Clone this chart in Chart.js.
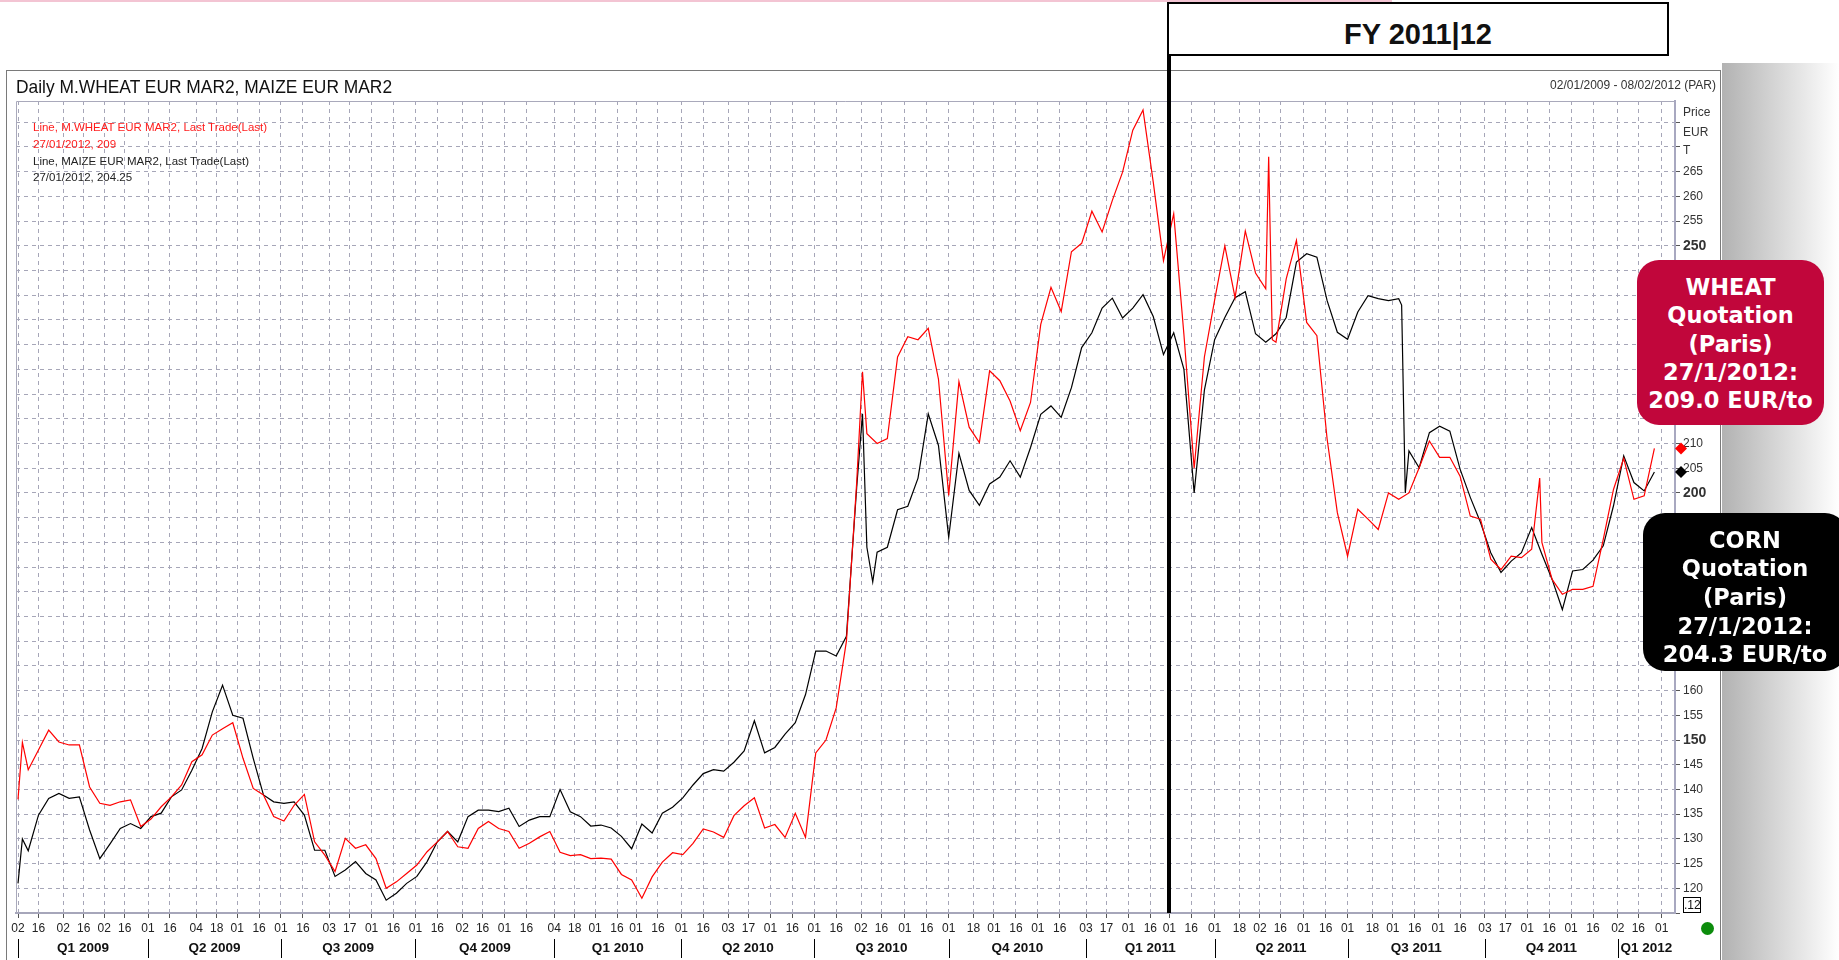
<!DOCTYPE html>
<html>
<head>
<meta charset="utf-8">
<title>Daily M.WHEAT EUR MAR2, MAIZE EUR MAR2</title>
<script src="https://cdn.jsdelivr.net/npm/chart.js@4.4.1/dist/chart.umd.min.js"></script>
<style>
    html, body { margin: 0; padding: 0; background: #fff; }
    #page { position: relative; width: 1839px; height: 960px; overflow: hidden; font-family: 'Liberation Sans', Arial, sans-serif; }
    #graph { position: absolute; left: 0; top: 0; z-index: 1; }
    .abs { position: absolute; white-space: nowrap; z-index: 2; }
    #pink { position: absolute; left: 0; top: 0; width: 1392px; height: 2px; background: #f3c4d3; }
    #shade { position: absolute; left: 1722px; top: 63px; width: 117px; height: 897px; background: linear-gradient(to right, #b2b2b2, #ffffff); }
    #frame { position: absolute; left: 6px; top: 70px; width: 1713px; height: 920px; border: 1px solid #7a7a7a; }
    #title { left: 16px; top: 76.6px; font-size: 19px; line-height: 19px; color: #111; transform: scaleX(0.915); transform-origin: left top; }
    #range { right: 123px; top: 79px; font-size: 12px; line-height: 12px; color: #333; }
    .leg { left: 33px; font-size: 11.5px; line-height: 16.8px; }
    .unit { left: 1683px; font-size: 12px; line-height: 12px; color: #333; }
    #fyBox { left: 1167px; top: 2px; width: 502px; height: 54px; box-sizing: border-box; border: 2px solid #000; background: #fff; }
    #fyText { left: 1167px; top: 19.5px; width: 502px; text-align: center; font-weight: bold; font-size: 29px; line-height: 29px; color: #111; }
    .quote { border-radius: 22px; color: #fff; font-family: 'DejaVu Sans', sans-serif; font-weight: bold; font-size: 22.5px; text-align: center; }
    .quote div { position: absolute; left: 0; width: 100%; }
    #wheatBox { left: 1637px; top: 260px; width: 187px; height: 165px; background: #c1063b; line-height: 28.3px; }
    #cornBox { left: 1643px; top: 513px; width: 204px; height: 158px; background: #000; line-height: 28.7px; }
    #small { left: 1683px; top: 897px; width: 18px; height: 16px; box-sizing: border-box; border: 1px solid #000; font-size: 12px; line-height: 14px; text-align: center; color: #111; }
    #dot { left: 1700.5px; top: 922px; width: 13px; height: 13px; border-radius: 50%; background: #0c8c0c; }
</style>
</head>
<body>
<div id="page">
    <div id="pink"></div>
    <div id="shade"></div>
    <div id="frame"></div>
    <div id="graph"></div>
    <div id="title" class="abs">Daily M.WHEAT EUR MAR2, MAIZE EUR MAR2</div>
    <div id="range" class="abs">02/01/2009 - 08/02/2012 (PAR)</div>
    <div class="abs leg" style="top:119px;color:#ff1c1c">Line, M.WHEAT EUR MAR2, Last Trade(Last)</div>
    <div class="abs leg" style="top:135.8px;color:#ff1c1c">27/01/2012, 209</div>
    <div class="abs leg" style="top:152.6px;color:#222">Line, MAIZE EUR MAR2, Last Trade(Last)</div>
    <div class="abs leg" style="top:169.4px;color:#222">27/01/2012, 204.25</div>
    <div class="abs unit" style="top:106.3px">Price</div>
    <div class="abs unit" style="top:126.3px">EUR</div>
    <div class="abs unit" style="top:143.8px">T</div>
    <div id="fyBox" class="abs"></div>
    <div id="fyText" class="abs">FY 2011|12</div>
    <div id="wheatBox" class="abs quote">
        <div style="top:13px">WHEAT</div>
        <div style="top:41.3px">Quotation</div>
        <div style="top:69.6px">(Paris)</div>
        <div style="top:97.9px">27/1/2012:</div>
        <div style="top:126.2px">209.0 EUR/to</div>
    </div>
    <div id="cornBox" class="abs quote">
        <div style="top:12.6px">CORN</div>
        <div style="top:41.3px">Quotation</div>
        <div style="top:70px">(Paris)</div>
        <div style="top:98.7px">27/1/2012:</div>
        <div style="top:127.4px">204.3 EUR/to</div>
    </div>
    <div id="small" class="abs">.12</div>
    <div id="dot" class="abs"></div>
</div>
<script>
// Cours hebdomadaires (EUR/t), un point par vendredi depuis le 02/01/2009
var wheatWeekly = [
    138, 144, 148, 152, 149.6, 149, 149, 140.5, 137.2, 136.8,
    137.5, 137.9, 132.5, 134, 136.5, 138.5, 140.9, 145.6, 147, 151,
    152.3, 153.5, 146.3, 140.2, 138.9, 134.5, 133.6, 136.8, 139, 129.4,
    126.7, 123.4, 130.1, 128.1, 128.8, 126, 120, 121.3, 123, 124.7,
    127.4, 129.4, 131.5, 128.4, 128.1, 132.1, 133.5, 132.1, 131.5, 128.1,
    129.1, 130.4, 131.5, 127.3, 126.6, 126.8, 126, 126.1, 125.9, 122.8,
    121.7, 118, 122.3, 125.3, 127.2, 126.8, 129.1, 132, 131.4, 130.3,
    134.7, 136.7, 138.3, 132.2, 132.9, 130.3, 135.2, 130.3, 147.4, 150,
    156.5, 170, 202, 212, 210, 211, 227.5, 231.6, 231, 233.3,
    223, 199.5, 222.5, 213.3, 210.2, 224.7, 222.7, 218.6, 212.6, 218.3,
    234.1, 241.6, 236.7, 248.8, 250.5, 257, 252.8, 259.2, 264.9, 273.4,
    277.5, 262.9, 247, 256.5, 232, 205, 227.5, 239, 250, 239.5,
    253, 244.5, 241.3, 230.5, 243.3, 251.1, 234.5, 231.8, 210.9, 196,
    187.2, 196.7, 194.7, 192.6, 200, 198.7, 200, 205.1, 210.5, 207.2,
    207.2, 203.4, 195.3, 194.7, 186.6, 184.5, 187.2, 186.9, 188.6, 190,
    182.5, 179.5, 180.5, 180.5, 181.1, 190.6, 200.7, 207, 198.7, 199.4, 209
];
var maizeWeekly = [
    121, 127.6, 134.8, 138.2, 139.2, 138.2, 138.5, 131.8, 126, 129,
    132.1, 133.1, 132.1, 134.5, 135.2, 138.5, 139.9, 143.9, 148.3, 155.7,
    161.1, 155, 154.4, 146.3, 138.9, 137.5, 137.2, 137.5, 134.8, 127.7,
    127.7, 122.4, 123.7, 125.4, 123, 121.7, 117.6, 119, 121, 122.4,
    125.4, 129.4, 131.5, 129.4, 134.5, 135.8, 135.8, 135.5, 136.2, 132.5,
    133.8, 134.5, 134.5, 140, 135.5, 134.5, 132.6, 132.8, 132.2, 130.5,
    128, 133, 131.2, 135.2, 136.4, 138.3, 140.9, 143.2, 144, 143.7,
    145.5, 147.8, 153.9, 147.4, 148.5, 151.2, 153.5, 159.2, 168, 168,
    167, 171, 201, 189, 188, 189, 196.6, 197.3, 203, 216,
    209.6, 191, 208, 200.5, 197.5, 201.8, 203.2, 206.5, 203.2, 209.2,
    215.9, 217.6, 215.3, 221.3, 229.4, 232.4, 237.4, 239.4, 235.4, 237.4,
    240.1, 235.7, 228, 232.4, 225, 200, 220.8, 231, 235.5, 239.5,
    240.7, 232.2, 230.5, 232.2, 235.5, 246.7, 248.4, 247.7, 238.9, 232.5,
    231.1, 236.6, 239.9, 239.3, 238.9, 239.3, 208.5, 205.1, 212.2, 213.5,
    212.5, 204.8, 199.1, 194, 187.9, 183.9, 186.2, 187.9, 193, 187.6,
    182.5, 176.4, 184.2, 184.5, 186.4, 189.3, 197.4, 207.5, 202.1, 200.4, 204.25
];
// Pics journaliers entre deux semaines : [jour depuis le 02/01/2009, cours]
var wheatExtra = [[3, 149.5], [578, 224.5], [856, 268], [858.5, 231], [1041.5, 203]];
var maizeExtra = [[3, 130], [578, 216], [585, 182], [947, 238], [949.5, 200]];

var lastWheat = 209;
var lastMaize = 204.25;

// Graduations de l'axe des dates
var tickDates = [
    '2009-01-02','2009-01-16','2009-02-02','2009-02-16','2009-03-02','2009-03-16','2009-04-01','2009-04-16',
    '2009-05-04','2009-05-18','2009-06-01','2009-06-16','2009-07-01','2009-07-16','2009-08-03','2009-08-17',
    '2009-09-01','2009-09-16','2009-10-01','2009-10-16','2009-11-02','2009-11-16','2009-12-01','2009-12-16',
    '2010-01-04','2010-01-18','2010-02-01','2010-02-16','2010-03-01','2010-03-16','2010-04-01','2010-04-16',
    '2010-05-03','2010-05-17','2010-06-01','2010-06-16','2010-07-01','2010-07-16','2010-08-02','2010-08-16',
    '2010-09-01','2010-09-16','2010-10-01','2010-10-18','2010-11-01','2010-11-16','2010-12-01','2010-12-16',
    '2011-01-03','2011-01-17','2011-02-01','2011-02-16','2011-03-01','2011-03-16','2011-04-01','2011-04-18',
    '2011-05-02','2011-05-16','2011-06-01','2011-06-16','2011-07-01','2011-07-18','2011-08-01','2011-08-16',
    '2011-09-01','2011-09-16','2011-10-03','2011-10-17','2011-11-01','2011-11-16','2011-12-01','2011-12-16',
    '2012-01-02','2012-01-16','2012-02-01'
];
var quarterStarts = ['2009-01-02','2009-04-01','2009-07-01','2009-10-01','2010-01-04','2010-04-01','2010-07-01',
    '2010-10-01','2011-01-03','2011-04-01','2011-07-01','2011-10-03','2012-01-02'];
var quarterLabels = ['Q1 2009','Q2 2009','Q3 2009','Q4 2009','Q1 2010','Q2 2010','Q3 2010',
    'Q4 2010','Q1 2011','Q2 2011','Q3 2011','Q4 2011','Q1 2012'];
var fyDate = '2011-03-01';

var yTicks = [115,120,125,130,135,140,145,150,155,160,165,170,175,180,185,190,195,200,205,210,
    215,220,225,230,235,240,245,250,255,260,265,270,275];
var yShown = [120,125,130,135,140,145,150,155,160,200,205,210,250,255,260,265];
var yBold = [150, 200, 250];

var xMin = -1.37, xMax = 1134.1;
var yMin = 115, yMax = 279.3;
var FONT = "'Liberation Sans', Arial, sans-serif";
var GRID = '#a6a6b8';

// Nombre de jours depuis le 02/01/2009
function dayOf(s) {
    const p = s.split('-');
    return (Date.UTC(+p[0], p[1] - 1, +p[2]) - Date.UTC(2009, 0, 2)) / 86400000;
}

function buildPoints(weekly, extra) {
    const pts = weekly.map((v, i) => ({ x: i * 7, y: v }));
    extra.forEach(e => pts.push({ x: e[0], y: e[1] }));
    return pts.sort((a, b) => a.x - b.x);
}

var tickDays = tickDates.map(dayOf);
var tickText = tickDates.map(s => s.slice(8));
var qDays = quarterStarts.map(dayOf);
var qMids = qDays.map((d, i) => (d + Math.min(i + 1 < qDays.length ? qDays[i + 1] : xMax, xMax)) / 2);

var graphDiv = document.getElementById('graph');
graphDiv.innerHTML = '';
var canvas = document.createElement('canvas');
canvas.id = 'chartCanvas';
canvas.width = 1839;
canvas.height = 960;
graphDiv.appendChild(canvas);

// Cadre du tracé, ligne FY, séparateurs de trimestres et marqueurs de prix
var extras = {
    id: 'extras',
    beforeDatasetsDraw(chart) {
        const { ctx, chartArea: a } = chart;
        ctx.save();
        ctx.strokeStyle = '#a9a9bb';
        ctx.lineWidth = 1;
        ctx.beginPath();
        ctx.moveTo(a.left + 0.5, a.bottom);
        ctx.lineTo(a.left + 0.5, a.top + 0.5);
        ctx.lineTo(a.right, a.top + 0.5);
        ctx.stroke();
        ctx.restore();
    },
    afterDraw(chart) {
        const { ctx, chartArea: a, scales } = chart;
        const x = scales.x, y = scales.y;
        ctx.save();
        const fx = Math.round(x.getPixelForValue(dayOf(fyDate)));
        ctx.fillStyle = '#000';
        ctx.fillRect(fx - 2, 56, 4, a.bottom - 56);

        ctx.strokeStyle = '#000';
        ctx.lineWidth = 1;
        qDays.forEach(d => {
            const px = Math.round(x.getPixelForValue(d)) + 0.5;
            ctx.beginPath();
            ctx.moveTo(px, 939);
            ctx.lineTo(px, 958);
            ctx.stroke();
        });

        const diamond = (val, color) => {
            const py = y.getPixelForValue(val);
            const px = a.right + 6;
            ctx.fillStyle = color;
            ctx.beginPath();
            ctx.moveTo(px, py - 6);
            ctx.lineTo(px + 6, py);
            ctx.lineTo(px, py + 6);
            ctx.lineTo(px - 6, py);
            ctx.closePath();
            ctx.fill();
        };
        diamond(lastWheat, '#ff0000');
        diamond(lastMaize, '#000000');
        ctx.restore();
    }
};

var chart = new Chart(canvas, {
    type: 'line',
    data: {
        datasets: [{
            label: 'M.WHEAT EUR MAR2',
            data: buildPoints(wheatWeekly, wheatExtra),
            borderColor: '#ff0000',
            borderWidth: 1.2,
            pointRadius: 0,
            tension: 0
        }, {
            label: 'MAIZE EUR MAR2',
            data: buildPoints(maizeWeekly, maizeExtra),
            borderColor: '#000000',
            borderWidth: 1.2,
            pointRadius: 0,
            tension: 0
        }]
    },
    options: {
        responsive: false,
        animation: false,
        devicePixelRatio: 1,
        layout: { padding: { left: 16, top: 101, right: 0, bottom: 0 } },
        plugins: {
            legend: { display: false },
            tooltip: { enabled: false },
            title: { display: false }
        },
        scales: {
            x: {
                type: 'linear',
                position: 'bottom',
                weight: 0,
                min: xMin,
                max: xMax,
                afterBuildTicks: axis => { axis.ticks = tickDays.map(v => ({ value: v })); },
                afterFit: axis => { axis.height = 26; },
                ticks: {
                    autoSkip: false,
                    maxRotation: 0,
                    minRotation: 0,
                    padding: 3,
                    color: '#222',
                    font: { family: FONT, size: 12 },
                    callback: (v, i) => tickText[i]
                },
                grid: { color: GRID, lineWidth: 1, drawTicks: true, tickLength: 5, tickColor: '#555' },
                border: { display: true, color: '#a6a6ba', width: 2, dash: [4, 4] }
            },
            xq: {
                type: 'linear',
                position: 'bottom',
                weight: 1,
                min: xMin,
                max: xMax,
                afterBuildTicks: axis => { axis.ticks = qMids.map(v => ({ value: v })); },
                afterFit: axis => { axis.height = 21; },
                ticks: {
                    autoSkip: false,
                    maxRotation: 0,
                    minRotation: 0,
                    padding: 1,
                    color: '#111',
                    font: { family: FONT, size: 13.5, weight: 'bold' },
                    callback: (v, i) => quarterLabels[i]
                },
                grid: { display: false, drawTicks: false },
                border: { display: false }
            },
            y: {
                type: 'linear',
                position: 'right',
                min: yMin,
                max: yMax,
                afterBuildTicks: axis => { axis.ticks = yTicks.map(v => ({ value: v })); },
                afterFit: axis => { axis.width = 164; },
                ticks: {
                    padding: 3,
                    color: '#333',
                    font: c => (c.tick && yBold.includes(c.tick.value))
                        ? { family: FONT, size: 14, weight: 'bold' }
                        : { family: FONT, size: 12 },
                    callback: v => (yShown.includes(v) ? String(v) : '')
                },
                grid: { color: GRID, lineWidth: 1, drawTicks: true, tickLength: 5, tickColor: '#555' },
                border: { display: true, color: '#a8a8c0', width: 2, dash: [4, 4] }
            }
        }
    },
    plugins: [extras]
});
</script>
</body>
</html>
